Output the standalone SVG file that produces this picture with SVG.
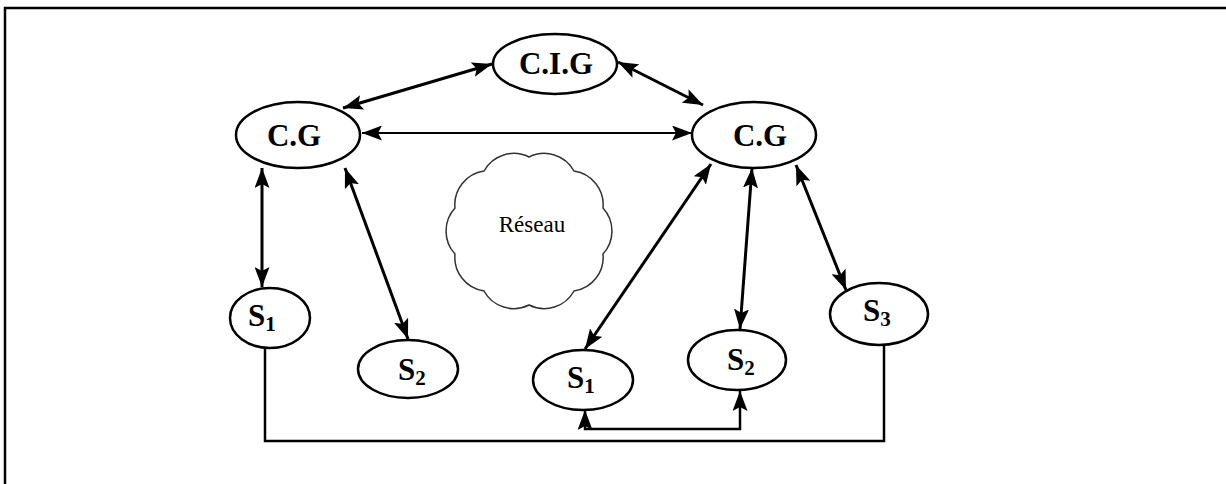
<svg xmlns="http://www.w3.org/2000/svg" width="1226" height="484" viewBox="0 0 1226 484">
<style>
.node{fill:#fff;stroke:#000;stroke-width:2.5}
.lbl{font-family:"Liberation Serif","Times New Roman",serif;font-weight:bold;font-size:31px;fill:#000}
.sub{font-size:21px}
.conn{fill:none;stroke:#000;stroke-width:3}
.thin{stroke-width:2}
.cloud{fill:#fff;stroke:#333;stroke-width:1.5}
</style>
<defs>
<marker id="ah" viewBox="0 0 20 15" refX="20" refY="7.5" markerWidth="20" markerHeight="15" markerUnits="userSpaceOnUse" orient="auto-start-reverse">
<path d="M0,0 L20,7.5 L0,15 L4,7.5 Z" fill="#000"/>
</marker>
</defs>
<rect x="0" y="0" width="1226" height="484" fill="#fff"/>
<path d="M4,8 H1226 M5,7 V484" fill="none" stroke="#000" stroke-width="2.5"/>
<g id="reseau">
<path class="cloud" d="M529,157 A34,34 0 0 1 574,171 A34,34 0 0 1 603,208 A34,34 0 0 1 603,254 A34,34 0 0 1 574,291 A34,34 0 0 1 529,305 A34,34 0 0 1 484,291 A34,34 0 0 1 455,254 A34,34 0 0 1 455,208 A34,34 0 0 1 484,171 A34,34 0 0 1 529,157 Z"/>
<text x="532" y="232" text-anchor="middle" font-family="Liberation Serif, serif" font-size="23">Réseau</text>
</g>
<g id="connectors">
<line class="conn" x1="343" y1="108" x2="492" y2="64" marker-start="url(#ah)" marker-end="url(#ah)"/>
<line class="conn" x1="618" y1="62" x2="703" y2="105" marker-start="url(#ah)" marker-end="url(#ah)"/>
<line class="conn thin" x1="362" y1="133" x2="692" y2="133" marker-start="url(#ah)" marker-end="url(#ah)"/>
<line class="conn" x1="262" y1="168" x2="262" y2="287" marker-start="url(#ah)" marker-end="url(#ah)"/>
<line class="conn" x1="345" y1="168" x2="408" y2="339" marker-start="url(#ah)" marker-end="url(#ah)"/>
<line class="conn" x1="711" y1="164" x2="585" y2="349" marker-start="url(#ah)" marker-end="url(#ah)"/>
<line class="conn" x1="752" y1="168" x2="740" y2="329" marker-start="url(#ah)" marker-end="url(#ah)"/>
<line class="conn" x1="796" y1="165" x2="846" y2="290" marker-start="url(#ah)" marker-end="url(#ah)"/>
<path class="conn" style="stroke-width:2.5" d="M265,348 V441 H884 V345"/>
<path class="conn" style="stroke-width:2.5" d="M585,410 V429 H740 V391" marker-start="url(#ah)" marker-end="url(#ah)"/>
</g>
<g id="cig">
<ellipse class="node" cx="555" cy="64" rx="62" ry="30"/>
<text class="lbl" x="556" y="74" text-anchor="middle">C.I.G</text>
</g>
<g id="cg-left">
<ellipse class="node" cx="298" cy="135" rx="62" ry="33"/>
<text class="lbl" x="294" y="146" text-anchor="middle">C.G</text>
</g>
<g id="cg-right">
<ellipse class="node" cx="754" cy="135" rx="62" ry="33"/>
<text class="lbl" x="760" y="146" text-anchor="middle">C.G</text>
</g>
<g id="s1-left">
<ellipse class="node" cx="270" cy="318" rx="40" ry="30"/>
<text class="lbl" x="248" y="326">S<tspan class="sub" dy="5">1</tspan></text>
</g>
<g id="s2-left">
<ellipse class="node" cx="408" cy="369" rx="50" ry="29"/>
<text class="lbl" x="398" y="380">S<tspan class="sub" dy="5">2</tspan></text>
</g>
<g id="s1-right">
<ellipse class="node" cx="583" cy="380" rx="50" ry="30"/>
<text class="lbl" x="567" y="388">S<tspan class="sub" dy="5">1</tspan></text>
</g>
<g id="s2-right">
<ellipse class="node" cx="737" cy="360" rx="49" ry="30"/>
<text class="lbl" x="727" y="370">S<tspan class="sub" dy="5">2</tspan></text>
</g>
<g id="s3">
<ellipse class="node" cx="879" cy="314" rx="49" ry="31"/>
<text class="lbl" x="863" y="321">S<tspan class="sub" dy="5">3</tspan></text>
</g>
</svg>
